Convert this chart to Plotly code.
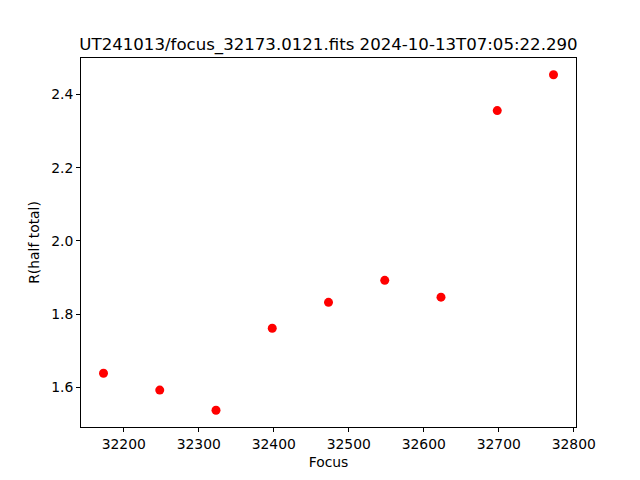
import plotly.graph_objects as go

focus = [32173, 32248, 32323, 32398, 32473, 32548, 32623, 32698, 32773]
r_half = [1.638, 1.592, 1.537, 1.761, 1.832, 1.892, 1.846, 2.356, 2.454]
x_ticks = [32200, 32300, 32400, 32500, 32600, 32700, 32800]
y_ticks = [1.6, 1.8, 2.0, 2.2, 2.4]

fig = go.Figure(go.Scatter(
    x=focus, y=r_half, mode="markers",
    marker=dict(color="#ff0000", size=9, line=dict(width=0)),
))

FS = 13.9
axis_common = dict(
    showgrid=False, zeroline=False, showline=True, linecolor="black", linewidth=1,
    mirror=True, ticks="outside", ticklen=4, tickwidth=1, tickcolor="black",
    tickfont=dict(family="DejaVu Sans", size=FS, color="black"), automargin=False,
)

W, H = 632, 472  # page body has an 8px margin
span_x = focus[-1] - focus[0]
span_y = max(r_half) - min(r_half)
fig.update_layout(
    width=W, height=H,
    paper_bgcolor="white", plot_bgcolor="white",
    margin=dict(l=73, r=64, t=50, b=53),
    showlegend=False,
    title=dict(text="UT241013/focus_32173.0121.fits 2024-10-13T07:05:22.290",
               xref="paper", x=0.5, xanchor="center", yref="container", y=1 - 36 / H, yanchor="middle",
               font=dict(family="DejaVu Sans", size=16.6, color="black")),
    xaxis=dict(axis_common, range=[focus[0] - 0.05 * span_x, focus[-1] + 0.05 * span_x],
               tickvals=x_ticks, ticktext=[str(v) for v in x_ticks],
               title=dict(text="Focus", font=dict(family="DejaVu Sans", size=FS, color="black"), standoff=6)),
    yaxis=dict(axis_common, range=[min(r_half) - 0.05 * span_y, max(r_half) + 0.05 * span_y],
               tickvals=y_ticks, ticktext=[f"{v:.1f}" for v in y_ticks],
               title=dict(text="R(half total)", font=dict(family="DejaVu Sans", size=FS, color="black"), standoff=8)),
)

fig.write_html("out.html")
